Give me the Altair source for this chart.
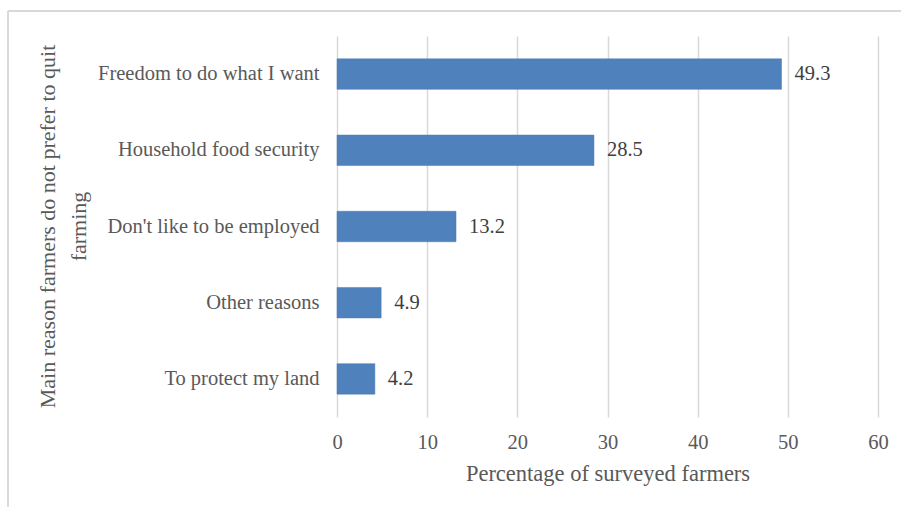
import altair as alt
import pandas as pd

categories = ["Freedom to do what I want", "Household food security",
              "Don't like to be employed", "Other reasons", "To protect my land"]
values = [49.3, 28.5, 13.2, 4.9, 4.2]
x_ticks = [0, 10, 20, 30, 40, 50, 60]

df = pd.DataFrame({"reason": categories, "pct": values})
df["label"] = df["pct"].map(lambda v: f"{v:.1f}")

FONT = "Liberation Serif"
TXT = "#595959"
GRID = "#d9d9d9"

y_enc = alt.Y("reason:N", sort=categories,
              scale=alt.Scale(paddingInner=0.6, paddingOuter=0.3),
              axis=alt.Axis(title=["Main reason farmers do not prefer to quit", "farming"],
                            labelFont=FONT, labelFontSize=20.5, labelColor=TXT,
                            labelPadding=18, labelLimit=400, ticks=False, domain=False,
                            titleFont=FONT, titleFontSize=22, titleFontWeight="normal",
                            titleColor=TXT, titleX=-278, titleY=190,
                            titleLineHeight=31, titleAnchor="middle"))
x_enc = alt.X("pct:Q", scale=alt.Scale(domain=[0, 60], nice=False),
              axis=alt.Axis(values=x_ticks, title="Percentage of surveyed farmers",
                            labelFont=FONT, labelFontSize=20.5, labelColor=TXT,
                            labelPadding=15, labelFlush=False, ticks=False, domain=False,
                            gridColor=GRID, gridWidth=1.5,
                            titleFont=FONT, titleFontSize=22.5, titleFontWeight="normal",
                            titleColor=TXT, titlePadding=10))

bars = alt.Chart(df).mark_bar(color="#4f81bd", stroke="#4a7ab5", strokeWidth=0.5).encode(
    x=x_enc, y=y_enc)
labels = alt.Chart(df).mark_text(align="left", baseline="middle", dx=13,
                                 font=FONT, fontSize=20.5, color="#404040").encode(
    x="pct:Q", y=alt.Y("reason:N", sort=categories), text="label:N")

border_left = alt.Chart(df).mark_rule(color=GRID, strokeWidth=1.5).encode(
    x=alt.value(-329), y=alt.value(-25), y2=alt.value(480))
border_top = alt.Chart(df).mark_rule(color=GRID, strokeWidth=1.5).encode(
    x=alt.value(-329), x2=alt.value(570), y=alt.value(-25))

chart = alt.layer(bars, labels, border_left, border_top).properties(
    width=541, height=381,
    autosize=alt.AutoSizeParams(type="none"),
    padding={"left": 337, "top": 36, "right": 23, "bottom": 90},
    background="white"
).configure_view(stroke=None)

chart.save("out.html", embed_options={"renderer": "svg", "actions": False})
